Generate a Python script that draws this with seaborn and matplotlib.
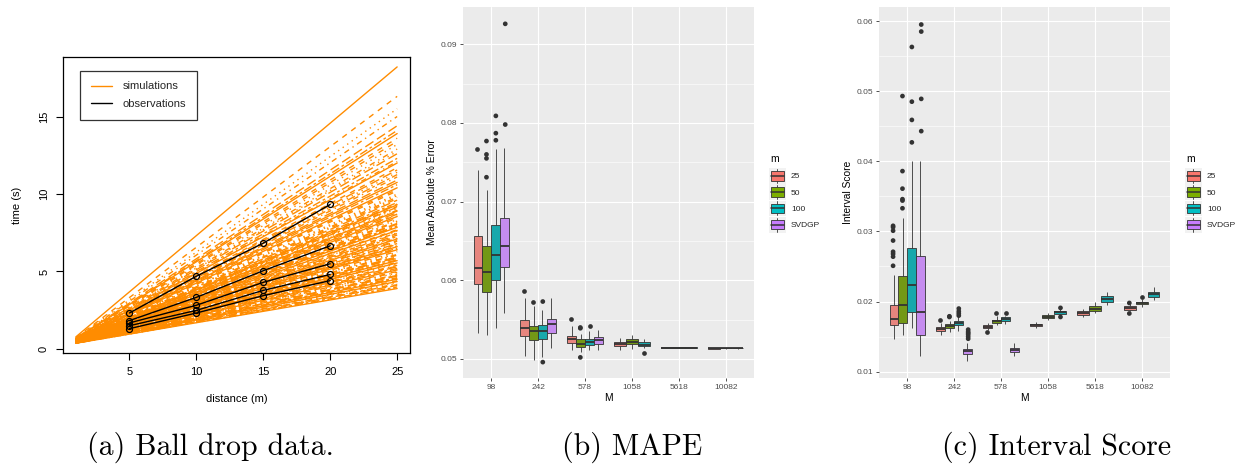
import numpy as np
import pandas as pd
import seaborn as sns
import matplotlib.pyplot as plt
from matplotlib.patches import Patch, Rectangle
from matplotlib.lines import Line2D
from matplotlib.legend_handler import HandlerBase
from matplotlib.ticker import MultipleLocator

sns.set_theme(style='darkgrid')
plt.rcParams['font.family'] = ['Liberation Sans', 'DejaVu Sans']

# ---------------- (a) ball drop data ----------------
sim_distance = [1, 25]
sim_start = [0.78, 0.72, 0.70, 0.69, 0.67, 0.66, 0.66, 0.65, 0.64, 0.63, 0.62, 0.61,
             0.60, 0.59, 0.58, 0.58, 0.57, 0.56, 0.56, 0.55, 0.54, 0.54, 0.53, 0.53,
             0.52, 0.52, 0.52, 0.51, 0.51, 0.51, 0.50, 0.50, 0.50, 0.49, 0.49, 0.49,
             0.48, 0.48, 0.48, 0.47, 0.47, 0.47, 0.46, 0.46, 0.46, 0.45, 0.45, 0.44,
             0.44, 0.44, 0.43, 0.43, 0.43, 0.43, 0.42, 0.42, 0.42, 0.41, 0.41, 0.41,
             0.40, 0.40, 0.40, 0.40, 0.39, 0.39, 0.39, 0.38, 0.38, 0.38, 0.38, 0.37, 0.37,
             0.64, 0.62, 0.60, 0.59, 0.58, 0.57, 0.55, 0.54, 0.54, 0.53, 0.52, 0.51,
             0.51, 0.50, 0.49, 0.49, 0.48, 0.48, 0.47, 0.47, 0.46, 0.46, 0.45, 0.45,
             0.44, 0.44, 0.43, 0.43, 0.42, 0.42, 0.41, 0.41, 0.40, 0.39, 0.39, 0.38,
             0.38, 0.37]
sim_end = [18.2, 16.3, 15.5, 15.0, 14.4, 14.1, 13.9, 13.6, 13.2, 12.9, 12.6, 12.3,
           12.0, 11.7, 11.4, 11.1, 10.9, 10.6, 10.4, 10.2, 10.0, 9.8, 9.6, 9.45,
           9.3, 9.2, 9.05, 8.95, 8.8, 8.7, 8.55, 8.45, 8.35, 8.2, 8.1, 7.95,
           7.85, 7.7, 7.6, 7.5, 7.35, 7.25, 7.1, 7.0, 6.9, 6.75, 6.65, 6.5,
           6.4, 6.3, 6.15, 6.05, 5.95, 5.85, 5.7, 5.6, 5.5, 5.4, 5.3, 5.2,
           5.1, 5.0, 4.9, 4.8, 4.7, 4.6, 4.5, 4.4, 4.3, 4.2, 4.1, 4.0, 3.9,
           13.4, 12.75, 12.1, 11.55, 11.25, 10.75, 10.3, 9.9, 9.7, 9.35, 9.15, 8.9,
           8.65, 8.5, 8.25, 8.05, 7.9, 7.65, 7.45, 7.3, 7.15, 6.95, 6.8, 6.6,
           6.45, 6.25, 6.1, 5.9, 5.75, 5.55, 5.35, 5.15, 4.95, 4.75, 4.55, 4.35,
           4.15, 3.95]

obs_distance = [5, 10, 15, 20]
obs_run1 = [2.32, 4.69, 6.83, 9.33]
obs_run2 = [1.83, 3.33, 5.05, 6.66]
obs_run3 = [1.68, 2.82, 4.30, 5.50]
obs_run4 = [1.50, 2.49, 3.78, 4.81]
obs_run5 = [1.31, 2.32, 3.44, 4.41]

# ---------------- (b) MAPE / (c) interval score ----------------
M_levels = ['98', '242', '578', '1058', '5618', '10082']
m_levels = ['25', '50', '100', 'SVDGP']
m_colors = ['#F8766D', '#7CAE00', '#00BFC4', '#C77CFF']

box_M = ['98'] * 4 + ['242'] * 4 + ['578'] * 4 + ['1058'] * 3 + ['5618'] * 3 + ['10082'] * 3
box_m = m_levels * 3 + m_levels[:3] * 3

mape_lo = [0.0533, 0.0531, 0.0539, 0.0559, 0.0504, 0.0499, 0.0503, 0.0514,
           0.0512, 0.0509, 0.0511, 0.0511, 0.0512, 0.0513, 0.0514,
           0.05136, 0.05133, 0.05136, 0.05128, 0.05130, 0.05130]
mape_q1 = [0.0595, 0.0585, 0.0600, 0.0617, 0.0529, 0.0524, 0.0525, 0.0533,
           0.0520, 0.0515, 0.0518, 0.0519, 0.0516, 0.0519, 0.0516,
           0.05140, 0.05138, 0.05140, 0.05131, 0.05134, 0.05134]
mape_med = [0.0616, 0.0611, 0.0632, 0.0644, 0.0539, 0.0535, 0.0535, 0.0544,
            0.0525, 0.0519, 0.0522, 0.0524, 0.0519, 0.0522, 0.0518,
            0.05145, 0.05142, 0.05145, 0.05133, 0.05136, 0.05136]
mape_q3 = [0.0656, 0.0643, 0.0670, 0.0679, 0.0550, 0.0542, 0.0543, 0.0551,
           0.0529, 0.0525, 0.0526, 0.0528, 0.0522, 0.0525, 0.0522,
           0.05150, 0.05146, 0.05150, 0.05136, 0.05139, 0.05139]
mape_hi = [0.0740, 0.0715, 0.0767, 0.0768, 0.0577, 0.0567, 0.0562, 0.0577,
           0.0542, 0.0532, 0.0535, 0.0537, 0.0527, 0.0531, 0.0526,
           0.05155, 0.05152, 0.05155, 0.05140, 0.05142, 0.05142]
mape_out_M = ['98'] * 10 + ['242'] * 4 + ['578'] * 5 + ['1058']
mape_out_m = ['25', '50', '50', '50', '50', '100', '100', '100', 'SVDGP', 'SVDGP',
              '25', '50', '100', '100', '25', '50', '50', '50', '100', '100']
mape_out_y = [0.0767, 0.0777, 0.0760, 0.0755, 0.0731, 0.0809, 0.0787, 0.0778, 0.0798, 0.0926,
              0.0586, 0.0572, 0.0573, 0.0496, 0.0551, 0.0540, 0.0539, 0.0502, 0.0542,
              0.0508]

is_lo = [0.0146, 0.0152, 0.0162, 0.0122, 0.0152, 0.0156, 0.0158, 0.0115,
         0.0160, 0.0166, 0.0168, 0.0123, 0.0163, 0.0173, 0.0181,
         0.0178, 0.0184, 0.0195, 0.0186, 0.0192, 0.0202]
is_q1 = [0.0166, 0.0170, 0.0185, 0.0152, 0.0158, 0.0162, 0.0166, 0.0125,
         0.0162, 0.0169, 0.0172, 0.0128, 0.0165, 0.0176, 0.0182,
         0.0181, 0.0187, 0.0200, 0.0188, 0.0196, 0.0207]
is_med = [0.0175, 0.0195, 0.0224, 0.0185, 0.0161, 0.0165, 0.0169, 0.0130,
          0.0164, 0.0172, 0.0175, 0.0131, 0.0166, 0.0178, 0.0185,
          0.0184, 0.0190, 0.0204, 0.0191, 0.0198, 0.0211]
is_q3 = [0.0195, 0.0236, 0.0276, 0.0265, 0.0164, 0.0168, 0.0172, 0.0133,
         0.0167, 0.0174, 0.0178, 0.0134, 0.0168, 0.0181, 0.0187,
         0.0187, 0.0193, 0.0208, 0.0193, 0.0200, 0.0214]
is_hi = [0.0238, 0.0319, 0.0400, 0.0400, 0.0169, 0.0172, 0.0179, 0.0141,
         0.0169, 0.0179, 0.0180, 0.0141, 0.0171, 0.0184, 0.0189,
         0.0190, 0.0200, 0.0214, 0.0197, 0.0204, 0.0221]
is_out_M = ['98'] * 22 + ['242'] * 13 + ['578'] * 3 + ['1058'] * 2 + ['10082'] * 3
is_out_m = (['25'] * 8 + ['50'] * 6 + ['100'] * 4 + ['SVDGP'] * 4
            + ['25'] + ['50'] * 2 + ['100'] * 4 + ['SVDGP'] * 6
            + ['25', '50', '100'] + ['100', '100'] + ['25', '25', '50'])
is_out_y = [0.0251, 0.0264, 0.0268, 0.0271, 0.0287, 0.0301, 0.0306, 0.0308,
            0.0333, 0.0344, 0.0346, 0.0361, 0.0386, 0.0493,
            0.0427, 0.0459, 0.0485, 0.0563,
            0.0443, 0.0489, 0.0585, 0.0595,
            0.0173, 0.0178, 0.0179, 0.0180, 0.0183, 0.0186, 0.0190,
            0.0147, 0.0150, 0.0153, 0.0155, 0.0157, 0.0160,
            0.0157, 0.0183, 0.0183,
            0.0178, 0.0191,
            0.0183, 0.0198, 0.0207]

W, H = 1238, 467
fig = plt.figure(figsize=(W / 100, H / 100), dpi=100)
fig.patch.set_facecolor('white')

# ---------------- panel (a) ----------------
ax = fig.add_axes([63 / W, 1 - 353 / H, 347 / W, 296 / H])
ax.set_facecolor('white')
ax.grid(False)
lty = ['-', (0, (4, 4)), (0, (1, 3)), (0, (1, 3, 4, 3)), (0, (7, 3)), (0, (2, 2, 6, 2))]
for i in range(len(sim_end)):
    ax.plot(sim_distance, [sim_start[i], sim_end[i]], color='#FF8C00', lw=1.0,
            ls=lty[i % len(lty)])

obs_df = pd.DataFrame({
    'distance': obs_distance * 5,
    'time': obs_run1 + obs_run2 + obs_run3 + obs_run4 + obs_run5,
    'run': sum([[k] * 4 for k in range(5)], []),
})
sns.lineplot(data=obs_df, x='distance', y='time', units='run', estimator=None,
             color='black', lw=1, marker='o', ms=4.3, mfc='none', mec='black', mew=0.9,
             legend=False, ax=ax)
ax.set_xlim(0.04, 25.96)
ax.set_ylim(-0.26, 18.84)
ax.set_xticks([5, 10, 15, 20, 25])
ax.set_yticks([0, 5, 10, 15])
ax.set_yticklabels(['0', '5', '10', '15'], rotation=90, va='center')
ax.tick_params(left=True, bottom=True, direction='out', length=5, width=0.8,
               colors='black', labelsize=8, pad=5)
for s in ax.spines.values():
    s.set_visible(True)
    s.set_color('black')
    s.set_linewidth(0.9)
ax.set_xlabel('distance (m)', fontsize=8, labelpad=12, color='black')
ax.set_ylabel('time (s)', fontsize=8, labelpad=12, color='black')
leg = ax.legend([Line2D([], [], color='#FF8C00', lw=1), Line2D([], [], color='black', lw=1)],
                ['simulations', 'observations'], loc='upper left',
                bbox_to_anchor=(0.049, 0.953), frameon=True, fancybox=False,
                edgecolor='black', fontsize=8, handlelength=1.9, handletextpad=1.0,
                borderpad=0.95, labelspacing=0.7, borderaxespad=0)
leg.get_frame().set_linewidth(0.9)
leg.get_frame().set_facecolor('white')


class BoxKey(HandlerBase):
    def create_artists(self, legend, orig_handle, xdescent, ydescent, width, height,
                       fontsize, trans):
        x0, y0 = -xdescent, -ydescent
        bg = Rectangle((x0, y0), width, height, fc='#F2F2F2', ec='none', transform=trans)
        bw, bh = width * 0.75, height * 0.6
        bx, by = x0 + (width - bw) / 2, y0 + (height - bh) / 2
        xm = x0 + width / 2
        w1 = Line2D([xm, xm], [y0 + height * 0.06, by], color='#333333', lw=0.6, transform=trans)
        w2 = Line2D([xm, xm], [by + bh, y0 + height * 0.94], color='#333333', lw=0.6, transform=trans)
        box = Rectangle((bx, by), bw, bh, fc=orig_handle.get_facecolor(), ec='#333333',
                        lw=0.6, transform=trans)
        med = Line2D([bx, bx + bw], [by + bh / 2, by + bh / 2], color='#333333', lw=1.1,
                     transform=trans)
        return [bg, w1, w2, box, med]


palette = dict(zip(m_levels, m_colors))
dark = {k: '#333333' for k in m_levels}


def box_panel(rect, lo, q1, med, q3, hi, out_M, out_m, out_y, ylabel, yticks, ylim):
    ax = fig.add_axes(rect)
    ax.set_facecolor('#EBEBEB')
    rows = []
    for i in range(len(box_M)):
        for v in (lo[i], q1[i], med[i], q3[i], hi[i]):
            rows.append((box_M[i], box_m[i], v))
    box_df = pd.DataFrame(rows, columns=['M', 'm', 'y'])
    out_df = pd.DataFrame({'M': out_M, 'm': out_m, 'y': out_y})
    for g in M_levels:
        sub = box_df[box_df['M'] == g]
        present = [k for k in m_levels if k in set(sub['m'])]
        sns.boxplot(data=sub, x='M', y='y', hue='m', order=M_levels, hue_order=present,
                    palette=palette, width=0.75, whis=np.inf, linecolor='#333333',
                    linewidth=0.6, showcaps=False, legend=False, ax=ax,
                    medianprops={'color': '#333333', 'linewidth': 1.3})
        osub = out_df[out_df['M'] == g]
        if len(osub):
            sns.stripplot(data=osub, x='M', y='y', hue='m', order=M_levels,
                          hue_order=present, palette=dark, dodge=True, jitter=False,
                          size=3.4, linewidth=0, legend=False, ax=ax)
    ax.set_xlim(-0.6, 5.6)
    ax.set_ylim(*ylim)
    ax.set_xticks(range(len(M_levels)))
    ax.set_xticklabels(M_levels)
    ax.set_yticks(yticks)
    ax.set_yticklabels([f'{t:.2f}' for t in yticks])
    ax.yaxis.set_minor_locator(MultipleLocator(0.005))
    ax.set_axisbelow(True)
    ax.grid(True, which='major', color='white', lw=0.8)
    ax.grid(True, which='minor', axis='y', color='white', lw=0.4)
    ax.tick_params(which='major', left=True, bottom=True, direction='out', length=2.5,
                   width=0.6, color='#333333', labelcolor='#4D4D4D', labelsize=6, pad=1.5)
    ax.tick_params(which='minor', left=False, bottom=False)
    for s in ax.spines.values():
        s.set_visible(False)
    ax.set_xlabel('M', fontsize=7.4, labelpad=1.5, color='black')
    ax.set_ylabel(ylabel, fontsize=7.4, labelpad=3, color='black')
    # legend title drawn as text, keys below it
    ax.text(1.055, 1 - (159 - 7) / 371, 'm', transform=ax.transAxes, ha='left',
            va='center', fontsize=7.4, color='black')
    handles = [Patch(facecolor=c) for c in m_colors]
    ax.legend(handles, m_levels, loc='upper left',
              bbox_to_anchor=(1.0515, 1 - (168 - 7) / 371), frameon=False, fontsize=6,
              handlelength=2.04, handleheight=2.55, labelspacing=0.05,
              handletextpad=0.6, borderaxespad=0, borderpad=0,
              handler_map={Patch: BoxKey()})
    return ax


box_panel([463 / W, 1 - 378 / H, 291 / W, 371 / H], mape_lo, mape_q1, mape_med, mape_q3,
          mape_hi, mape_out_M, mape_out_m, mape_out_y, 'Mean Absolute % Error',
          [0.05, 0.06, 0.07, 0.08, 0.09], (0.04758, 0.09474))
box_panel([879 / W, 1 - 378 / H, 291 / W, 371 / H], is_lo, is_q1, is_med, is_q3,
          is_hi, is_out_M, is_out_m, is_out_y, 'Interval Score',
          [0.01, 0.02, 0.03, 0.04, 0.05, 0.06], (0.0091, 0.0620))

# captions
for xc, txt in [(210, '(a) Ball drop data.'), (632, '(b) MAPE'), (1057, '(c) Interval Score')]:
    fig.text(xc / W, 1 - 447 / H, txt, ha='center', va='center', fontfamily='cmr10',
             fontsize=21.5, color='black')

fig.savefig('out.png', dpi=100)
